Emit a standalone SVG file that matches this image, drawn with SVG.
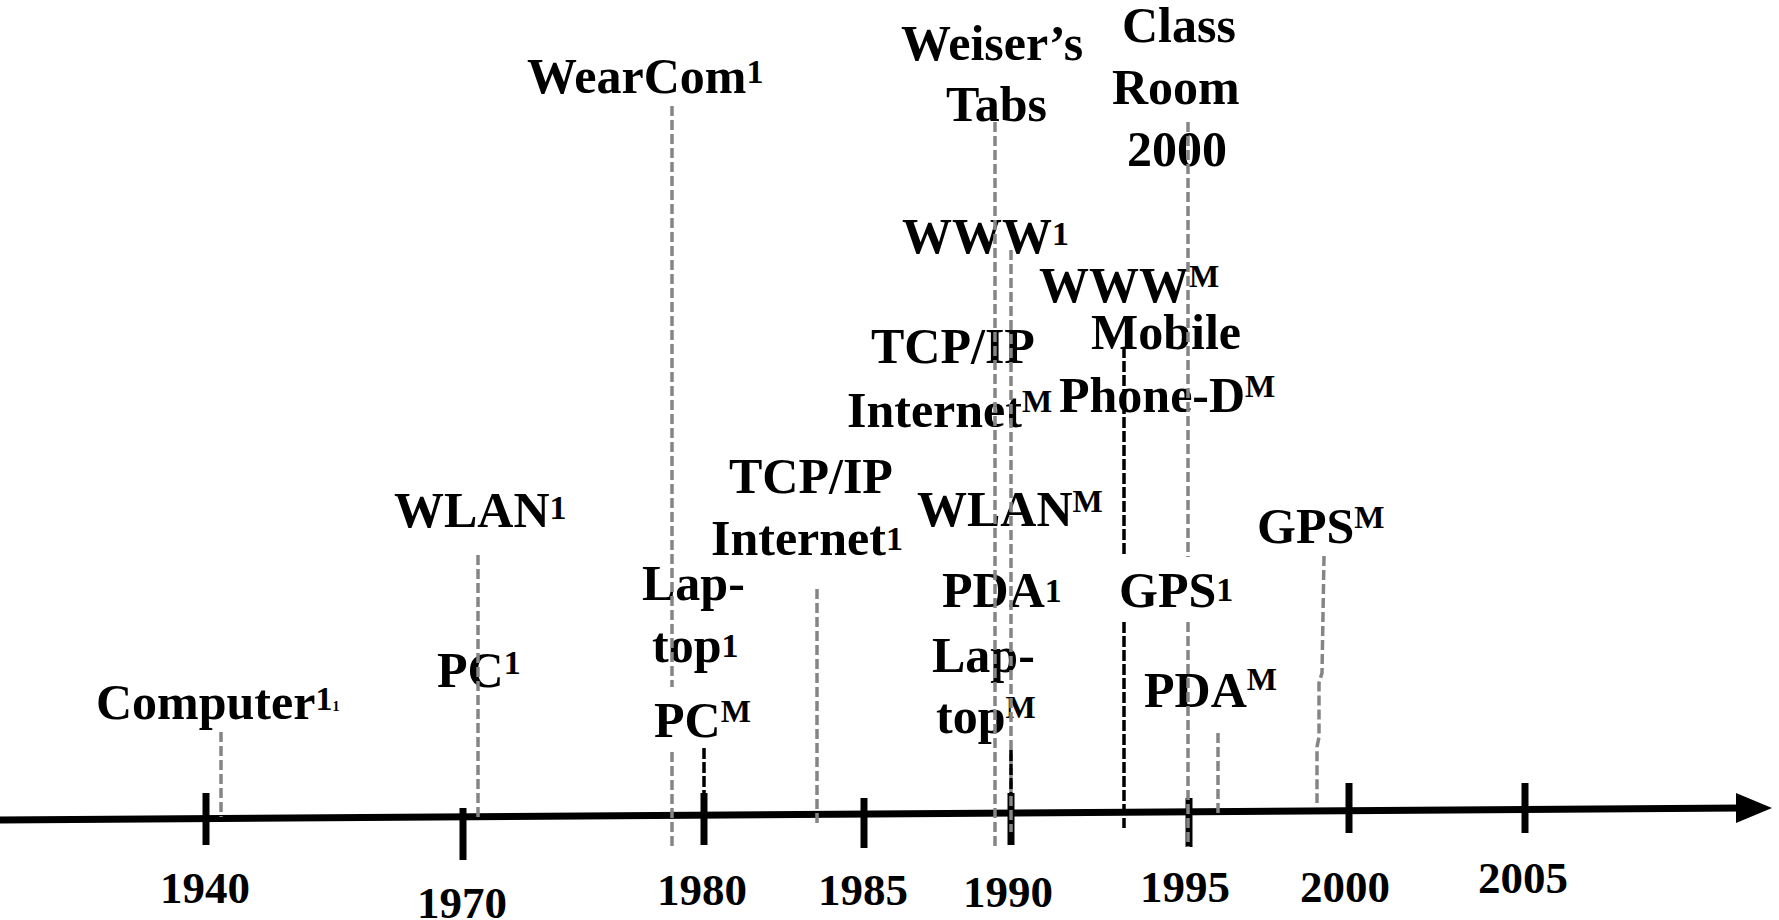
<svg xmlns="http://www.w3.org/2000/svg" width="1779" height="920" viewBox="0 0 1779 920">
  <style>
    text { font-family: "Liberation Serif", "Times New Roman", serif; font-weight: bold; fill: #000; }
    .lbl { font-size: 50px; }
    .yr { font-size: 45px; text-anchor: middle; }
    .sup { font-size: 32px; }
    .one { font-size: 34px; }
    .sub { font-size: 14px; }
    .tick { stroke: #000; stroke-width: 7; }
    .guide { fill: none; stroke: #858585; stroke-width: 3.5; stroke-dasharray: 10 4; }
    .guide-dark { fill: none; stroke: #000; stroke-width: 3.5; stroke-dasharray: 11 3; }
  </style>
  <rect width="1779" height="920" fill="#fff"/>

  <!-- time axis with year ticks -->
  <g id="axis">
    <line x1="0" y1="820" x2="1742" y2="808" stroke="#000" stroke-width="7"/>
    <polygon points="1736,793 1772,808 1736,823" fill="#000"/>
    <line class="tick" x1="206" y1="793" x2="206" y2="845"/>
    <line class="tick" x1="463" y1="808" x2="463" y2="860"/>
    <line class="tick" x1="704" y1="793" x2="704" y2="845"/>
    <line class="tick" x1="864" y1="798" x2="864" y2="848"/>
    <line class="tick" x1="1011" y1="793" x2="1011" y2="845"/>
    <line class="tick" x1="1189" y1="798" x2="1189" y2="847"/>
    <line class="tick" x1="1349" y1="783" x2="1349" y2="833"/>
    <line class="tick" x1="1525" y1="783" x2="1525" y2="833"/>
    <text class="yr" x="205" y="903">1940</text>
    <text class="yr" x="462" y="918">1970</text>
    <text class="yr" x="702" y="905">1980</text>
    <text class="yr" x="863" y="905">1985</text>
    <text class="yr" x="1008" y="907">1990</text>
    <text class="yr" x="1185" y="902">1995</text>
    <text class="yr" x="1345" y="902">2000</text>
    <text class="yr" x="1523" y="893">2005</text>
  </g>

  <!-- event labels -->
  <g id="computer"><text class="lbl" x="96" y="719">Computer<tspan class="one" dy="-9">1</tspan><tspan class="sub" dy="1">1</tspan></text></g>
  <g id="wearcom"><text class="lbl" x="527" y="93">WearCom<tspan class="one" dy="-10">1</tspan></text></g>
  <g id="wlan1"><text class="lbl" x="394" y="527">WLAN<tspan class="one" dy="-8">1</tspan></text></g>
  <g id="pc1"><text class="lbl" x="437" y="687">PC<tspan class="one" dy="-13">1</tspan></text></g>
  <g id="laptop1">
    <text class="lbl" x="642" y="600">Lap-</text>
    <text class="lbl" x="652" y="662">top<tspan class="one" dy="-5">1</tspan></text>
  </g>
  <g id="pcM"><text class="lbl" x="654" y="737">PC<tspan class="sup" dy="-15">M</tspan></text></g>
  <g id="tcpip1">
    <text class="lbl" x="729" y="493">TCP/IP</text>
    <text class="lbl" x="711" y="555">Internet<tspan class="one" dy="-5">1</tspan></text>
  </g>
  <g id="weiser">
    <text class="lbl" x="901" y="60">Weiser’s</text>
    <text class="lbl" x="946" y="121">Tabs</text>
  </g>
  <g id="classroom">
    <text class="lbl" x="1122" y="42">Class</text>
    <text class="lbl" x="1112" y="104">Room</text>
    <text class="lbl" x="1127" y="166">2000</text>
  </g>
  <g id="www1"><text class="lbl" x="902" y="253">WWW<tspan class="one" dy="-8">1</tspan></text></g>
  <g id="wwwM"><text class="lbl" x="1039" y="302">WWW<tspan class="sup" dy="-15">M</tspan></text></g>
  <g id="tcpipM">
    <text class="lbl" x="871" y="363">TCP/IP</text>
    <text class="lbl" x="847" y="427">Internet<tspan class="sup" dy="-15">M</tspan></text>
  </g>
  <g id="mobile">
    <text class="lbl" x="1091" y="349">Mobile</text>
    <text class="lbl" x="1059" y="412">Phone-D<tspan class="sup" dy="-15">M</tspan></text>
  </g>
  <g id="wlanM"><text class="lbl" x="917" y="526">WLAN<tspan class="sup" dy="-14">M</tspan></text></g>
  <g id="pda1"><text class="lbl" x="942" y="607">PDA<tspan class="one" dy="-5">1</tspan></text></g>
  <g id="gps1"><text class="lbl" x="1119" y="607">GPS<tspan class="one" dy="-6">1</tspan></text></g>
  <g id="laptopM">
    <text class="lbl" x="932" y="672">Lap-</text>
    <text class="lbl" x="936" y="733">top<tspan class="sup" dy="-15">M</tspan></text>
  </g>
  <g id="pdaM"><text class="lbl" x="1144" y="707">PDA<tspan class="sup" dy="-17">M</tspan></text></g>
  <g id="gpsM"><text class="lbl" x="1257" y="543">GPS<tspan class="sup" dy="-15">M</tspan></text></g>

  <!-- drop lines from labels to the axis -->
  <g id="connectors">
    <line class="guide" x1="221" y1="732" x2="221" y2="817"/>
    <line class="guide" x1="478" y1="555" x2="478" y2="818"/>
    <line class="guide" x1="672" y1="106" x2="672" y2="687"/>
    <line class="guide" x1="672" y1="752" x2="672" y2="848"/>
    <line class="guide" x1="817" y1="589" x2="817" y2="823"/>
    <line class="guide" x1="995" y1="122" x2="995" y2="848"/>
    <line class="guide" x1="1011" y1="250" x2="1011" y2="832"/>
    <line class="guide" x1="1188" y1="122" x2="1188" y2="557"/>
    <line class="guide" x1="1188" y1="622" x2="1188" y2="847"/>
    <line class="guide" x1="1218" y1="733" x2="1218" y2="816"/>
    <polyline class="guide" points="1324,556 1322,673 1319,683 1319,737 1317,747 1317,803"/>
    <line class="guide-dark" x1="704" y1="748" x2="704" y2="793"/>
    <line class="guide-dark" x1="1011" y1="750" x2="1011" y2="793"/>
    <line class="guide-dark" x1="1124" y1="347" x2="1124" y2="557"/>
    <line class="guide-dark" x1="1124" y1="622" x2="1124" y2="828"/>
  </g>
</svg>
